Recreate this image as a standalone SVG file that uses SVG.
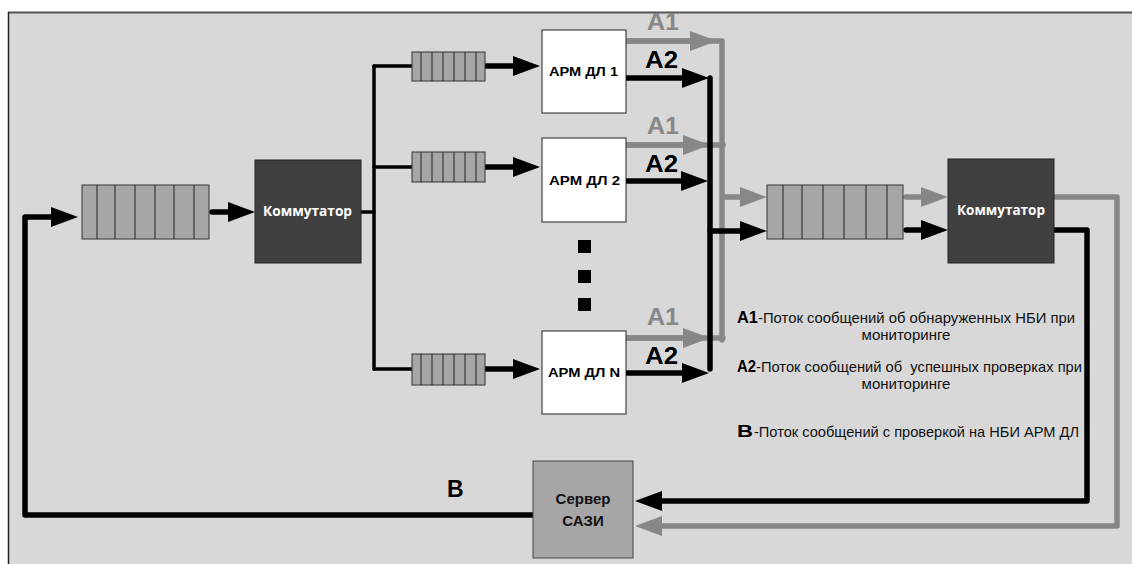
<svg xmlns="http://www.w3.org/2000/svg" width="1132" height="564" viewBox="0 0 1132 564">
<defs>
<style>
.q{fill:#a6a6a6;stroke:#333;stroke-width:1}
.qd{stroke:#222;stroke-width:1}
.sw{fill:#404040;stroke:#222;stroke-width:1}
.arm{fill:#fff;stroke:#222;stroke-width:1}
.srv{fill:#a6a6a6;stroke:#444;stroke-width:1}
.kt{font-family:"Open Sans","Liberation Sans",sans-serif;font-weight:bold;font-size:14px;fill:#fff}
.at{font-family:"Liberation Sans",Arial,sans-serif;font-weight:bold;font-size:12px;fill:#000}
.lb{font-family:"Liberation Sans",Arial,sans-serif;font-weight:bold;font-size:23px}
.lg{font-family:"Liberation Sans",Arial,sans-serif;font-size:15px;fill:#111}
.lgb{font-family:"Liberation Sans",Arial,sans-serif;font-weight:bold;font-size:16px;fill:#000}
.st{font-family:"Liberation Sans",Arial,sans-serif;font-weight:bold;font-size:15px;fill:#111}
.bk{fill:none;stroke:#000;stroke-width:5.5;stroke-linecap:round;stroke-linejoin:round}
.bt{fill:none;stroke:#000;stroke-width:3.5;stroke-linecap:round;stroke-linejoin:round}
.gr{fill:none;stroke:#878787;stroke-width:5.5;stroke-linecap:round;stroke-linejoin:round}
</style>
<marker id="ab" markerUnits="userSpaceOnUse" markerWidth="28" markerHeight="20" refX="0" refY="10" orient="auto" viewBox="0 0 28 20"><path d="M0,0 L27,10 L0,20 Z" fill="#000"/></marker>
<marker id="ag" markerUnits="userSpaceOnUse" markerWidth="28" markerHeight="20" refX="0" refY="10" orient="auto" viewBox="0 0 28 20"><path d="M0,0 L27,10 L0,20 Z" fill="#878787"/></marker>
</defs>
<rect x="0" y="0" width="1132" height="564" fill="#fff"/>
<rect x="8" y="12" width="1130" height="560" fill="#d8d8d8"/>
<line x1="8" y1="12.5" x2="1132" y2="12.5" stroke="#555" stroke-width="2"/>
<line x1="8.5" y1="12" x2="8.5" y2="564" stroke="#222" stroke-width="1.5"/>

<g id="connectors">
<path class="gr" d="M626,41 H722 V340"/>
<path class="gr" d="M626,41 H690" marker-end="url(#ag)"/>
<path class="gr" d="M626,145 H723"/>
<path class="gr" d="M626,145 H683" marker-end="url(#ag)"/>
<path class="gr" d="M626,338 H723"/>
<path class="gr" d="M626,338 H683" marker-end="url(#ag)"/>
<path class="gr" d="M723,197 H740" marker-end="url(#ag)"/>
<path class="gr" d="M906,197 H921" marker-end="url(#ag)"/>
<path class="gr" d="M1054,197 H1117 V526 H662" marker-end="url(#ag)"/>

<path class="bk" d="M533,515 H25 V217 H51" marker-end="url(#ab)"/>
<path class="bk" d="M212,212 H228" marker-end="url(#ab)"/>
<path class="bt" d="M361,212 H374"/>
<path class="bt" d="M374,66 V369"/>
<path class="bt" d="M374,66 H412"/>
<path class="bt" d="M374,167 H412"/>
<path class="bt" d="M374,369 H412"/>
<path class="bk" d="M486,66 H513" marker-end="url(#ab)"/>
<path class="bk" d="M486,167 H513" marker-end="url(#ab)"/>
<path class="bk" d="M486,369 H513" marker-end="url(#ab)"/>
<path class="bk" d="M626,78 H682" marker-end="url(#ab)"/>
<path class="bk" d="M626,181 H681" marker-end="url(#ab)"/>
<path class="bk" d="M626,373 H682" marker-end="url(#ab)"/>
<path class="bk" d="M710,78 V369"/>
<path class="bk" d="M710,231 H740" marker-end="url(#ab)"/>
<path class="bk" d="M906,230 H921" marker-end="url(#ab)"/>
<path class="bk" d="M1054,230 H1087 V501 H662" marker-end="url(#ab)"/>
</g>

<g id="queue-in">
<rect class="q" x="82" y="185" width="127" height="54"/>
<path class="qd" d="M97,185V239M115,185V239M135,185V239M155,185V239M174,185V239M194,185V239"/>
</g>
<g id="switch-left">
<rect class="sw" x="255" y="160" width="106" height="103"/>
<text class="kt" x="263" y="216" textLength="89" lengthAdjust="spacingAndGlyphs">Коммутатор</text>
</g>
<g id="queue-1">
<rect class="q" x="412" y="52" width="73" height="29"/>
<path class="qd" d="M421,52V81M432,52V81M443,52V81M454,52V81M465,52V81M476,52V81"/>
</g>
<g id="queue-2">
<rect class="q" x="412" y="152" width="73" height="30"/>
<path class="qd" d="M421,152V182M432,152V182M443,152V182M454,152V182M465,152V182M476,152V182"/>
</g>
<g id="queue-n">
<rect class="q" x="412" y="354" width="73" height="31"/>
<path class="qd" d="M421,354V385M432,354V385M443,354V385M454,354V385M465,354V385M476,354V385"/>
</g>
<g id="arm-1">
<rect class="arm" x="542" y="30" width="84" height="83"/>
<text class="at" x="549" y="76" textLength="69" lengthAdjust="spacingAndGlyphs">АРМ ДЛ 1</text>
</g>
<g id="arm-2">
<rect class="arm" x="542" y="138" width="84" height="84"/>
<text class="at" x="549" y="185" textLength="71" lengthAdjust="spacingAndGlyphs">АРМ ДЛ 2</text>
</g>
<g id="arm-n">
<rect class="arm" x="542" y="331" width="84" height="83"/>
<text class="at" x="548" y="377" textLength="72" lengthAdjust="spacingAndGlyphs">АРМ ДЛ N</text>
</g>
<g id="dots">
<rect x="578" y="240" width="13" height="13" fill="#000"/>
<rect x="578" y="270" width="13" height="13" fill="#000"/>
<rect x="578" y="298" width="13" height="13" fill="#000"/>
</g>
<g id="flow-labels">
<text class="lb" x="647" y="30" fill="#878787" textLength="32" lengthAdjust="spacingAndGlyphs">A1</text>
<text class="lb" x="645" y="68" fill="#000" textLength="33" lengthAdjust="spacingAndGlyphs">A2</text>
<text class="lb" x="647" y="134" fill="#878787" textLength="32" lengthAdjust="spacingAndGlyphs">A1</text>
<text class="lb" x="645" y="172" fill="#000" textLength="33" lengthAdjust="spacingAndGlyphs">A2</text>
<text class="lb" x="647" y="325" fill="#878787" textLength="32" lengthAdjust="spacingAndGlyphs">A1</text>
<text class="lb" x="645" y="364" fill="#000" textLength="33" lengthAdjust="spacingAndGlyphs">A2</text>
<text class="lb" x="447" y="497" fill="#000" font-size="21">B</text>
</g>
<g id="queue-out">
<rect class="q" x="767" y="185" width="136" height="54"/>
<path class="qd" d="M783,185V239M802,185V239M823,185V239M844,185V239M866,185V239M887,185V239"/>
</g>
<g id="switch-right">
<rect class="sw" x="948" y="159" width="106" height="104"/>
<text class="kt" x="957" y="215" textLength="88" lengthAdjust="spacingAndGlyphs">Коммутатор</text>
</g>
<g id="server">
<rect class="srv" x="533" y="461" width="100" height="97"/>
<text class="st" x="583" y="504" text-anchor="middle">Сервер</text>
<text class="st" x="583" y="526" text-anchor="middle">САЗИ</text>
</g>
<g id="legend">
<text class="lgb" x="737" y="323" textLength="21" lengthAdjust="spacingAndGlyphs">A1</text>
<text class="lg" x="758" y="323" textLength="317" lengthAdjust="spacingAndGlyphs">-Поток сообщений об обнаруженных НБИ при</text>
<text class="lg" x="906" y="340" text-anchor="middle">мониторинге</text>
<text class="lgb" x="737" y="372" textLength="19" lengthAdjust="spacingAndGlyphs">A2</text>
<text class="lg" x="756" y="372" textLength="326" lengthAdjust="spacingAndGlyphs" xml:space="preserve">-Поток сообщений об  успешных проверках при</text>
<text class="lg" x="906" y="389" text-anchor="middle">мониторинге</text>
<text class="lgb" x="737" y="437" font-size="18" textLength="16" lengthAdjust="spacingAndGlyphs">B</text>
<text class="lg" x="754" y="437" textLength="325" lengthAdjust="spacingAndGlyphs">-Поток сообщений с проверкой на НБИ АРМ ДЛ</text>
</g>
</svg>
